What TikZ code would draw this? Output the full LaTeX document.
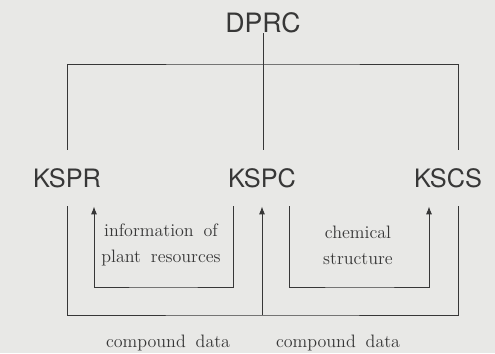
\documentclass[tikz,border=0pt]{standalone}
\usepackage{fontspec}
\usepackage{tikz}
\usetikzlibrary{arrows.meta}
\newfontfamily\sysfont{TeX Gyre Heros}
\definecolor{paper}{RGB}{232,232,230}
\definecolor{ink}{RGB}{55,55,55}

\begin{document}
\begin{tikzpicture}[x=0.75pt,y=-0.75pt,
    link/.style={draw=ink,line width=0.7pt},
    sysbox/.style={font=\sysfont\fontsize{19}{22}\selectfont,text=ink,inner sep=0pt,outer ysep=14pt},
    topbox/.style={font=\sysfont\fontsize{20}{24}\selectfont,text=ink,inner sep=0pt},
    flowtext/.style={font={\fontsize{13.5}{19.5}\selectfont\spaceskip=0.55em plus 0.1em},text=ink,align=center,inner sep=0pt},
    flow/.style={link,-{Latex[length=6pt,width=4.5pt]}}]
    \fill [paper] (0,0) rectangle (495,353);
    \useasboundingbox (0,0) rectangle (495,353);

    % centres
    \node [topbox] (dprc) at (263,23) {DPRC};
    \node [sysbox] (kspr) at (67,178) {KSPR};
    \node [sysbox] (kspc) at (262,178) {KSPC};
    \node [sysbox] (kscs) at (448,178) {KSCS};

    % top tree
    \coordinate (topbus) at (263,64);
    \draw [link] (dprc.south) -- (dprc.south |- kspc.north);
    \draw [link] (kspr.north) |- (topbus) -| ([xshift=7.5pt]kscs.north);

    % data flows
    \coordinate (lowbus) at (262,315);
    \draw [link] (kspr.south) |- (lowbus) -| ([xshift=7.5pt]kscs.south);
    \draw [flow] (lowbus) -- (lowbus |- kspc.south);
    \draw [flow] ([xshift=-21.75pt]kspc.south) |- (163,287) -| ([xshift=20.25pt]kspr.south);
    \draw [flow] ([xshift=20.25pt]kspc.south) |- (360,287) -| ([xshift=-14.25pt]kscs.south);

    % labels
    \node [flowtext] (plantinfo) at (161,245) {information of\\plant resources};
    \node [flowtext] (chemstruct) at (358,245) {chemical\\structure};
    \node [flowtext] (cdleft) at (168,343) {compound data};
    \node [flowtext] (cdright) at (338,343) {compound data};
\end{tikzpicture}
\end{document}
